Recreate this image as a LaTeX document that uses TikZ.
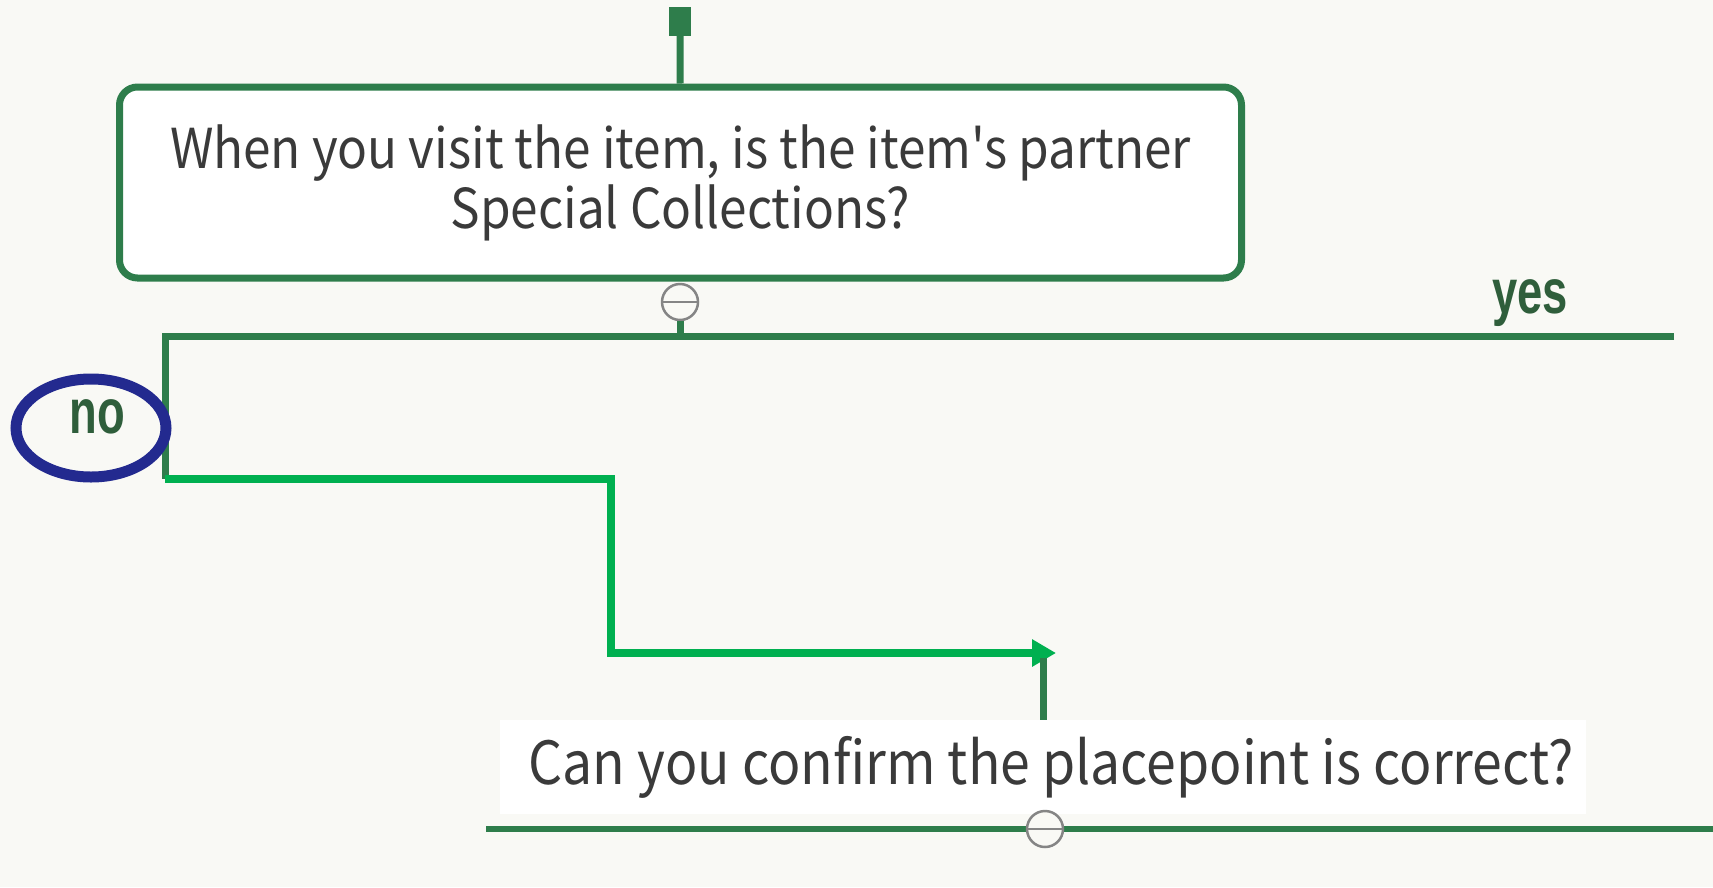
\documentclass[tikz,border=0pt]{standalone}
\usepackage{fontspec}
\setmainfont[FakeStretch=0.9,Ligatures=TeXOff]{Noto Sans CJK SC}
\newfontfamily\labelfont[FakeStretch=0.72]{Liberation Sans}
\usepackage{tikz}
\usetikzlibrary{positioning,arrows.meta,shapes.geometric}

\definecolor{paper}{HTML}{F9F9F5}
\definecolor{flowgreen}{HTML}{2E7D4B}
\definecolor{newgreen}{HTML}{00B050}
\definecolor{answergreen}{HTML}{2F5E3B}
\definecolor{jointgray}{HTML}{858585}
\definecolor{textgray}{HTML}{3A3A3A}
\definecolor{ringblue}{HTML}{232A8F}

\begin{document}
\begin{tikzpicture}[x=1pt,y=-1pt]
	\tikzstyle{flow}=[draw=flowgreen,line width=7pt]
	\tikzstyle{question}=[draw=flowgreen,line width=7pt,fill=white,rounded corners=18pt,align=center,text=textgray,font=\fontsize{55}{60}\selectfont]
	\tikzstyle{joint}=[circle,draw=jointgray,line width=2.5pt,fill=paper,inner sep=0pt,path picture={\draw[jointgray,line width=2.5pt] (path picture bounding box.west) -- (path picture bounding box.east);}]
	\tikzstyle{answer}=[text=answergreen,font=\labelfont\bfseries\fontsize{63}{63}\selectfont,inner sep=0pt,anchor=base]
	\fill[paper] (0,0) rectangle (1713,887);
	\useasboundingbox (0,0) rectangle (1713,887);
		% first question
		\node[fill=flowgreen,minimum width=22pt,minimum height=29pt,inner sep=0pt] (feed) at (680,21.5) {};
		\node[question,minimum width=1122pt,minimum height=191pt] (visit) at (680.5,182.5) {When you visit the item, is the item's partner\\Special Collections?};
		\node[joint,minimum size=36pt] (join1) at (680,302) {};
			\draw[flow] (feed) -- (visit);
		\coordinate (fork) at (680,336);
		\coordinate (noturn) at (165,336);
		\coordinate (yesend) at (1674,336);
		\coordinate (nodrop) at (165,479);
			\draw[flow] (join1) -- (fork);
			\draw[flow] (yesend) -- (noturn) -- (nodrop);
		% answers
		\node[answer] (yes) at (1530,313) {yes};
		\node[answer] (no) at (97,433) {no};
		\node[ellipse,draw=ringblue,line width=11pt,minimum width=150pt,minimum height=98pt] (noring) at (91,428) {};
		% new path to second question
		\coordinate (target) at (1056,653);
			\draw[newgreen,line width=8pt,-{Triangle[length=24pt,width=26pt]}] (nodrop) -- (611,479) |- (target);
		\node[fill=white,minimum width=1086pt,minimum height=94pt,text=textgray,font=\fontsize{59.5}{60}\selectfont] (confirm) at (1043,767) {\hspace*{16pt}Can you confirm the placepoint is correct?};
		\coordinate (stubtop) at (1043,658);
			\draw[flow] (stubtop) -- (stubtop |- confirm.north);
		\coordinate (rulestart) at (486,829);
		\coordinate (ruleend) at (1713,829);
			\draw[flow,line width=6pt] (rulestart) -- (ruleend);
		\node[joint,minimum size=36pt] (join2) at (1045,829) {};
\end{tikzpicture}
\end{document}
